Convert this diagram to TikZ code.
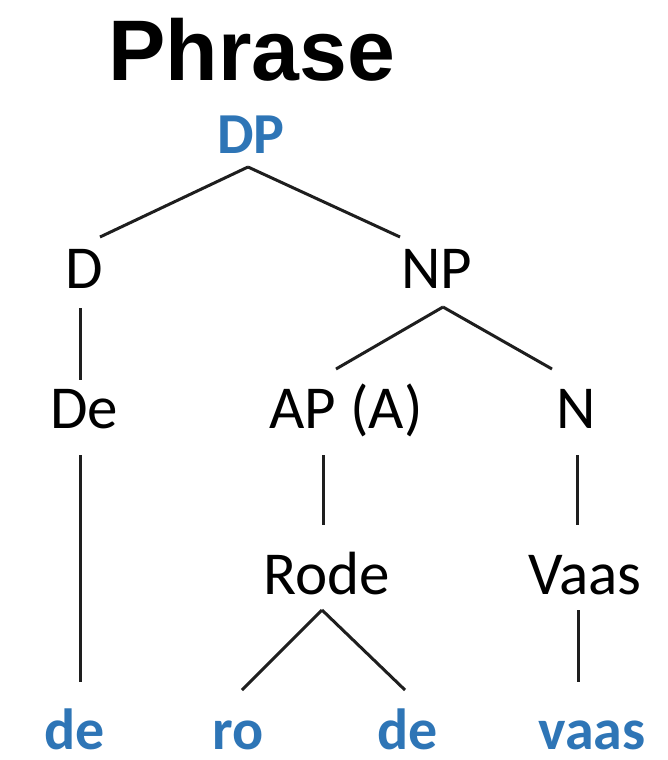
\documentclass[tikz,border=0pt]{standalone}
\usepackage{fontspec}
\setmainfont{Carlito}
\newfontfamily\titlefont{Liberation Sans}
\usetikzlibrary{calc}
\definecolor{leafblue}{RGB}{46,117,182}
\definecolor{edgegray}{RGB}{30,30,30}
\begin{document}
\begin{tikzpicture}[x=1pt,y=-1pt,
  lbl/.style={anchor=base, inner sep=0pt, text=black,
    font=\fontsize{61}{61}\selectfont},
  hd/.style={anchor=base, inner sep=0pt, text=leafblue,
    font=\fontsize{58}{58}\selectfont\bfseries},
  edge/.style={line width=3pt, draw=edgegray}]
\useasboundingbox (0,0) rectangle (667,760);

% heading
\node[anchor=base, inner sep=0pt, font=\titlefont\fontsize{86}{86}\selectfont\bfseries] (title) at (252,81) {Phrase};

% tree labels
\node[hd]  (DP)   at (251,153) {DP};
\node[lbl] (D)    at (84,288)  {D};
\node[lbl] (NP)   at (437,288) {NP};
\node[lbl] (De)   at (84,428)  {De};
\node[lbl] (AP)   at (346,428) {AP (A)};
\node[lbl] (N)    at (576,428) {N};
\node[lbl] (Rode) at (327,594) {Rode};
\node[lbl] (Vaas) at (585,594) {Vaas};
\node[hd]  (de1)  at (75,749)  {de};
\node[hd]  (ro)   at (238,749) {ro};
\node[hd]  (de2)  at (408,749) {de};
\node[hd]  (vaas) at (592,749) {vaas};

% branches
\draw[edge] ($(DP.base)+(-3,14)$) -- ($(D.base)+(16,-51)$);
\draw[edge] ($(DP.base)+(-3,14)$) -- ($(NP.base)+(-37,-51)$);
\draw[edge] ($(D.base)+(-4,20)$) -- ($(De.base)+(-4,-48)$);
\draw[edge] ($(NP.base)+(6,19)$) -- ($(AP.base)+(-10,-59)$);
\draw[edge] ($(NP.base)+(6,19)$) -- ($(N.base)+(-24,-59)$);
\draw[edge] ($(De.base)+(-4,27)$) -- ($(de1.base)+(5,-67)$);
\draw[edge] ($(AP.base)+(-23,27)$) -- ($(Rode.base)+(-4,-69)$);
\draw[edge] ($(N.base)+(1,27)$) -- ($(Vaas.base)+(-8,-69)$);
\draw[edge] ($(Rode.base)+(-5,16)$) -- ($(ro.base)+(4,-59)$);
\draw[edge] ($(Rode.base)+(-5,16)$) -- ($(de2.base)+(-3,-59)$);
\draw[edge] ($(Vaas.base)+(-7,16)$) -- ($(vaas.base)+(-14,-67)$);
\end{tikzpicture}
\end{document}
